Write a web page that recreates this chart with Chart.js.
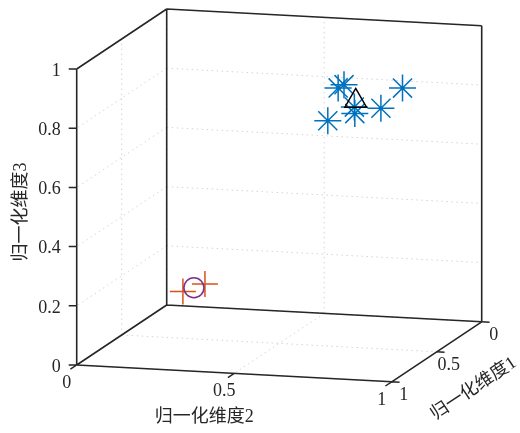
<!DOCTYPE html>
<html>
<head>
<meta charset="utf-8">
<script src="https://cdn.jsdelivr.net/npm/chart.js@4/dist/chart.umd.min.js"></script>
<style>
  html, body { margin: 0; padding: 0; background: #fff; }
  #wrap { width: 520px; height: 433px; }
</style>
</head>
<body>
<div id="wrap"><canvas id="scatter3"></canvas></div>
<script>
// points are [维度2, 维度1, 维度3]
const clusterA = [
  [0.63, 0.30, 0.83],
  [0.62, 0.20, 0.82],
  [0.64, 0.45, 0.75],
  [0.71, 0.40, 0.79],
  [0.74, 0.50, 0.79],
  [0.78, 0.35, 0.78],
  [0.82, 0.25, 0.83],
];
const centerA = [[0.70, 0.35, 0.80]];
const clusterB = [
  [0.08, 0.10, 0.07],
  [0.15, 0.10, 0.10],
];
const centerB = [[0.115, 0.10, 0.085]];

const xTicks = [0, 0.5, 1];                 // 归一化维度2
const yTicks = [0, 0.5, 1];                 // 归一化维度1
const zTicks = [0, 0.2, 0.4, 0.6, 0.8, 1];  // 归一化维度3
const xTickLabels = ["0", "0.5", "1"];
const yTickLabels = ["0", "0.5", "1"];
const zTickLabels = ["0", "0.2", "0.4", "0.6", "0.8", "1"];
const xTitle = "归一化维度2";
const yTitle = "归一化维度1";
const zTitle = "归一化维度3";

// fixed camera fitted to the figure, plane units are px
const view = { ox: 166.7, oy: 305, ax: [315, 16.8], ay: [-90, 60], az: [0, -296] };

function project(p) {
  return {
    x: view.ox + p[0] * view.ax[0] + p[1] * view.ay[0] + p[2] * view.az[0],
    y: view.oy + p[0] * view.ax[1] + p[1] * view.ay[1] + p[2] * view.az[1],
  };
}

const GAP = { x: NaN, y: NaN };

function segs(list) {
  const out = [];
  list.forEach((s) => {
    out.push(project(s[0]), project(s[1]), GAP);
  });
  return out;
}

const boxEdges = [
  [[0, 1, 0], [0, 1, 1]],
  [[0, 0, 0], [0, 0, 1]],
  [[1, 0, 0], [1, 0, 1]],
  [[0, 1, 1], [0, 0, 1]],
  [[0, 0, 1], [1, 0, 1]],
  [[0, 1, 0], [1, 1, 0]],
  [[1, 1, 0], [1, 0, 0]],
  [[0, 0, 0], [1, 0, 0]],
  [[0, 0, 0], [0, 1, 0]],
];

const gridLines = [];
zTicks.forEach((t) => {
  gridLines.push([[0, 0, t], [1, 0, t]]);
  gridLines.push([[0, 0, t], [0, 1, t]]);
});
xTicks.forEach((t) => {
  gridLines.push([[t, 0, 0], [t, 0, 1]]);
  gridLines.push([[t, 0, 0], [t, 1, 0]]);
});
yTicks.forEach((t) => {
  gridLines.push([[0, t, 0], [0, t, 1]]);
  gridLines.push([[0, t, 0], [1, t, 0]]);
});

const tickData = [];
xTicks.forEach((t) => {
  tickData.push(project([t, 1, 0]), project([t, 1.07, 0]), GAP);
});
yTicks.forEach((t) => {
  tickData.push(project([1, t, 0]), project([1.025, t, 0]), GAP);
});
zTicks.forEach((t) => {
  const p = project([0, 1, t]);
  tickData.push(p, { x: p.x - 8, y: p.y }, GAP);
});

const ink = "#262626";
const font = '18px "Liberation Serif", "Noto Sans CJK SC", serif';

const labelPlugin = {
  id: "labels3d",
  afterDraw(chart) {
    const ctx = chart.ctx;
    const sx = chart.scales.x, sy = chart.scales.y;
    const px = (p) => ({ x: sx.getPixelForValue(p.x), y: sy.getPixelForValue(p.y) });
    ctx.save();
    ctx.fillStyle = ink;
    ctx.font = font;
    ctx.textBaseline = "middle";

    ctx.textAlign = "right";
    zTicks.forEach((t, i) => {
      const p = px(project([0, 1, t]));
      ctx.fillText(zTickLabels[i], p.x - 16, p.y + 2);
    });
    ctx.textAlign = "center";
    xTicks.forEach((t, i) => {
      const p = px(project([t, 1, 0]));
      ctx.fillText(xTickLabels[i], p.x - 10, p.y + 18);
    });
    yTicks.forEach((t, i) => {
      const p = px(project([1, t, 0]));
      ctx.fillText(yTickLabels[i], p.x + 12, p.y + 13);
    });

    let p = px(project([0.5, 1, 0]));
    ctx.fillText(xTitle, p.x - 30, p.y + 44);

    p = px(project([1, 0.5, 0]));
    ctx.save();
    ctx.translate(p.x + 37, p.y + 37);
    ctx.rotate(Math.atan2(-view.ay[1], -view.ay[0]));
    ctx.fillText(yTitle, 0, 0);
    ctx.restore();

    p = px(project([0, 1, 0.5]));
    ctx.save();
    ctx.translate(p.x - 55, p.y - 5);
    ctx.rotate(-Math.PI / 2);
    ctx.fillText(zTitle, 0, 0);
    ctx.restore();
    ctx.restore();
  },
};

function lineSet(data, color, width, dash, order) {
  return {
    data: data,
    showLine: true,
    spanGaps: false,
    borderColor: color,
    borderWidth: width,
    borderDash: dash,
    pointRadius: 0,
    order: order,
  };
}

function markSet(points, style, color, radius, order) {
  return {
    data: points.map(project),
    showLine: false,
    pointStyle: style,
    pointRadius: radius,
    pointBorderColor: color,
    pointBackgroundColor: "rgba(0,0,0,0)",
    pointBorderWidth: 1.5,
    order: order,
  };
}

new Chart(document.getElementById("scatter3"), {
  type: "scatter",
  data: {
    datasets: [
      lineSet(segs(gridLines), "#d4d4d4", 1, [1.5, 3.5], 30),
      lineSet(segs(boxEdges), ink, 1.6, [], 20),
      lineSet(tickData, ink, 1.5, [], 20),
      markSet(clusterA, "star", "#0072BD", 13.5, 4),
      markSet(clusterB, "cross", "#D95319", 13, 3),
      markSet(centerB, "circle", "#7E2F8E", 10, 2),
      markSet(centerA, "triangle", "#000000", 12.5, 1),
    ],
  },
  options: {
    responsive: true,
    maintainAspectRatio: false,
    animation: false,
    layout: { padding: 0, autoPadding: false },
    plugins: { legend: { display: false }, tooltip: { enabled: false } },
    scales: {
      x: { type: "linear", min: 0, max: 520, display: false },
      y: { type: "linear", min: 0, max: 433, reverse: true, display: false },
    },
  },
  plugins: [labelPlugin],
});
</script>
</body>
</html>
